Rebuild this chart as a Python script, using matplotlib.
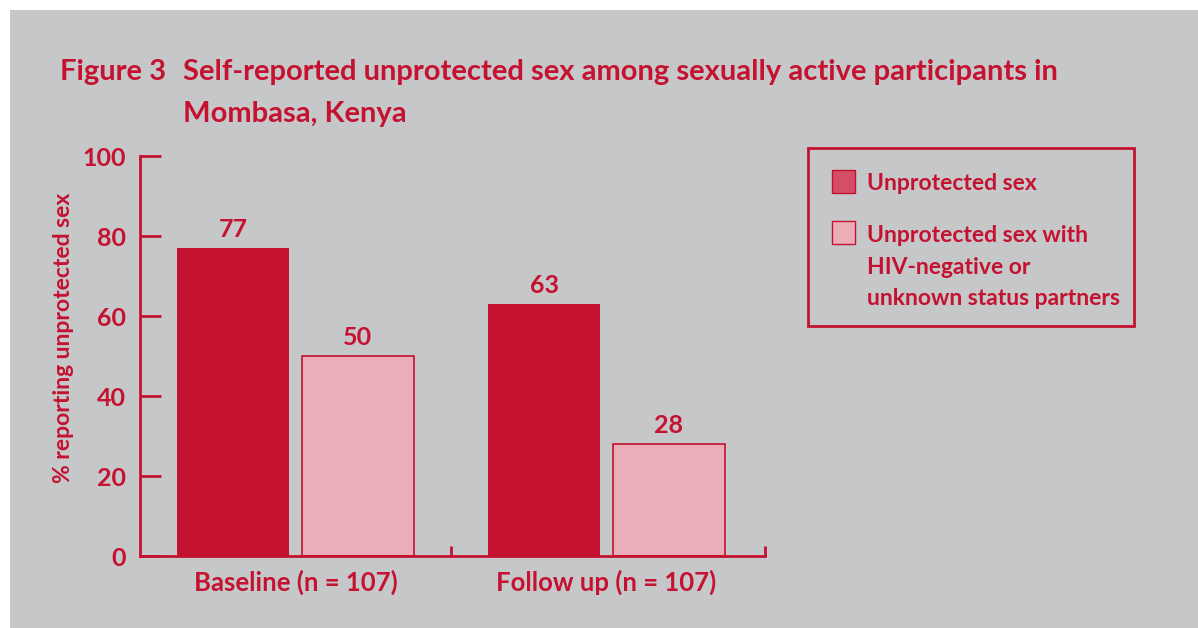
import matplotlib
matplotlib.use("Agg")
import matplotlib.pyplot as plt
from matplotlib.patches import Rectangle
import numpy as np

categories = ["Baseline (n = 107)", "Follow up (n = 107)"]
unprotected = [77, 63]
unprotected_neg = [50, 28]
series_labels = ["Unprotected sex", "Unprotected sex with\nHIV-negative or\nunknown status partners"]
yticks = [0, 20, 40, 60, 80, 100]

RED = "#C41230"
PINK = "#EBADB8"
BG = "#C6C7C9"
FONT = "Lato"

plt.rcParams['font.family'] = [FONT, 'DejaVu Sans']

W, H = 1198, 628
fig = plt.figure(figsize=(W / 100, H / 100), dpi=100)
fig.patches.append(Rectangle((10 / W, 0), 1 - 10 / W, 1 - 10 / H, transform=fig.transFigure,
                             facecolor=BG, edgecolor='none', zorder=-10))

ax = fig.add_axes([140 / W, 1 - 556 / H, (765 - 140) / W, (556 - 156) / H])
ax.set_facecolor('none')

x = np.arange(len(categories)) + 0.5
w = 0.36
b1 = ax.bar(x - 0.2, unprotected, w, color=RED, edgecolor='none', zorder=2)
b2 = ax.bar(x + 0.2, unprotected_neg, w, color=PINK, edgecolor=RED, linewidth=1.2, zorder=2)
for bars, vals in ((b1, unprotected), (b2, unprotected_neg)):
    for r, v in zip(bars, vals):
        ax.text(r.get_x() + r.get_width() / 2, v + 1.8, str(v), ha='center', va='bottom',
                color=RED, fontsize=18, fontweight='bold')

ax.set_xlim(0, 2.01)
ax.set_ylim(0, 100)
for s in ('top', 'right'):
    ax.spines[s].set_visible(False)
for s in ('left', 'bottom'):
    ax.spines[s].set_color(RED)
    ax.spines[s].set_linewidth(2)

ax.set_yticks(yticks)
ax.set_yticklabels([str(t) for t in yticks])
ax.tick_params(axis='y', direction='in', length=15, width=2, color=RED, labelcolor=RED,
               labelsize=18, pad=10)
ax.set_xticks([1.0, 2.01])
ax.tick_params(axis='x', direction='in', length=7, width=2, color=RED, labelbottom=False)
for xi, c in zip(x, categories):
    ax.text(xi, -3.5, c, ha='center', va='top', color=RED, fontsize=18.5, fontweight='bold',
            transform=ax.transData)
for lab in ax.get_yticklabels():
    lab.set_fontweight('bold')

ax.set_ylabel("% reporting unprotected sex", color=RED, fontsize=16.5, fontweight='bold')
ax.yaxis.set_label_coords(-66 / 625, 0.546)

# Title
fig.text(60 / W, 1 - 80 / H, "Figure 3", color=RED, fontsize=21, fontweight='bold',
         ha='left', va='baseline')
fig.text(183 / W, 1 - 80 / H, "Self-reported unprotected sex among sexually active participants in",
         color=RED, fontsize=21, fontweight='bold', ha='left', va='baseline')
fig.text(183 / W, 1 - 122 / H, "Mombasa, Kenya", color=RED, fontsize=21, fontweight='bold',
         ha='left', va='baseline')

# Legend box
fig.patches.append(Rectangle((808 / W, 1 - 326 / H), (1134 - 808) / W, (326 - 148) / H,
                             transform=fig.transFigure, facecolor='none', edgecolor=RED,
                             linewidth=2))
fig.patches.append(Rectangle((832 / W, 1 - 193 / H), 23 / W, 23 / H, transform=fig.transFigure,
                             facecolor="#D44F66", edgecolor=RED, linewidth=1))
fig.patches.append(Rectangle((832 / W, 1 - 244 / H), 23 / W, 23 / H, transform=fig.transFigure,
                             facecolor=PINK, edgecolor=RED, linewidth=1))
fig.text(867 / W, 1 - 190 / H, series_labels[0], color=RED, fontsize=16.5, fontweight='bold',
         ha='left', va='baseline')
for line, yb in zip(series_labels[1].split("\n"), (242, 274, 305)):
    fig.text(867 / W, 1 - yb / H, line, color=RED, fontsize=16.5, fontweight='bold',
             ha='left', va='baseline')

fig.savefig("out.png", dpi=100)
